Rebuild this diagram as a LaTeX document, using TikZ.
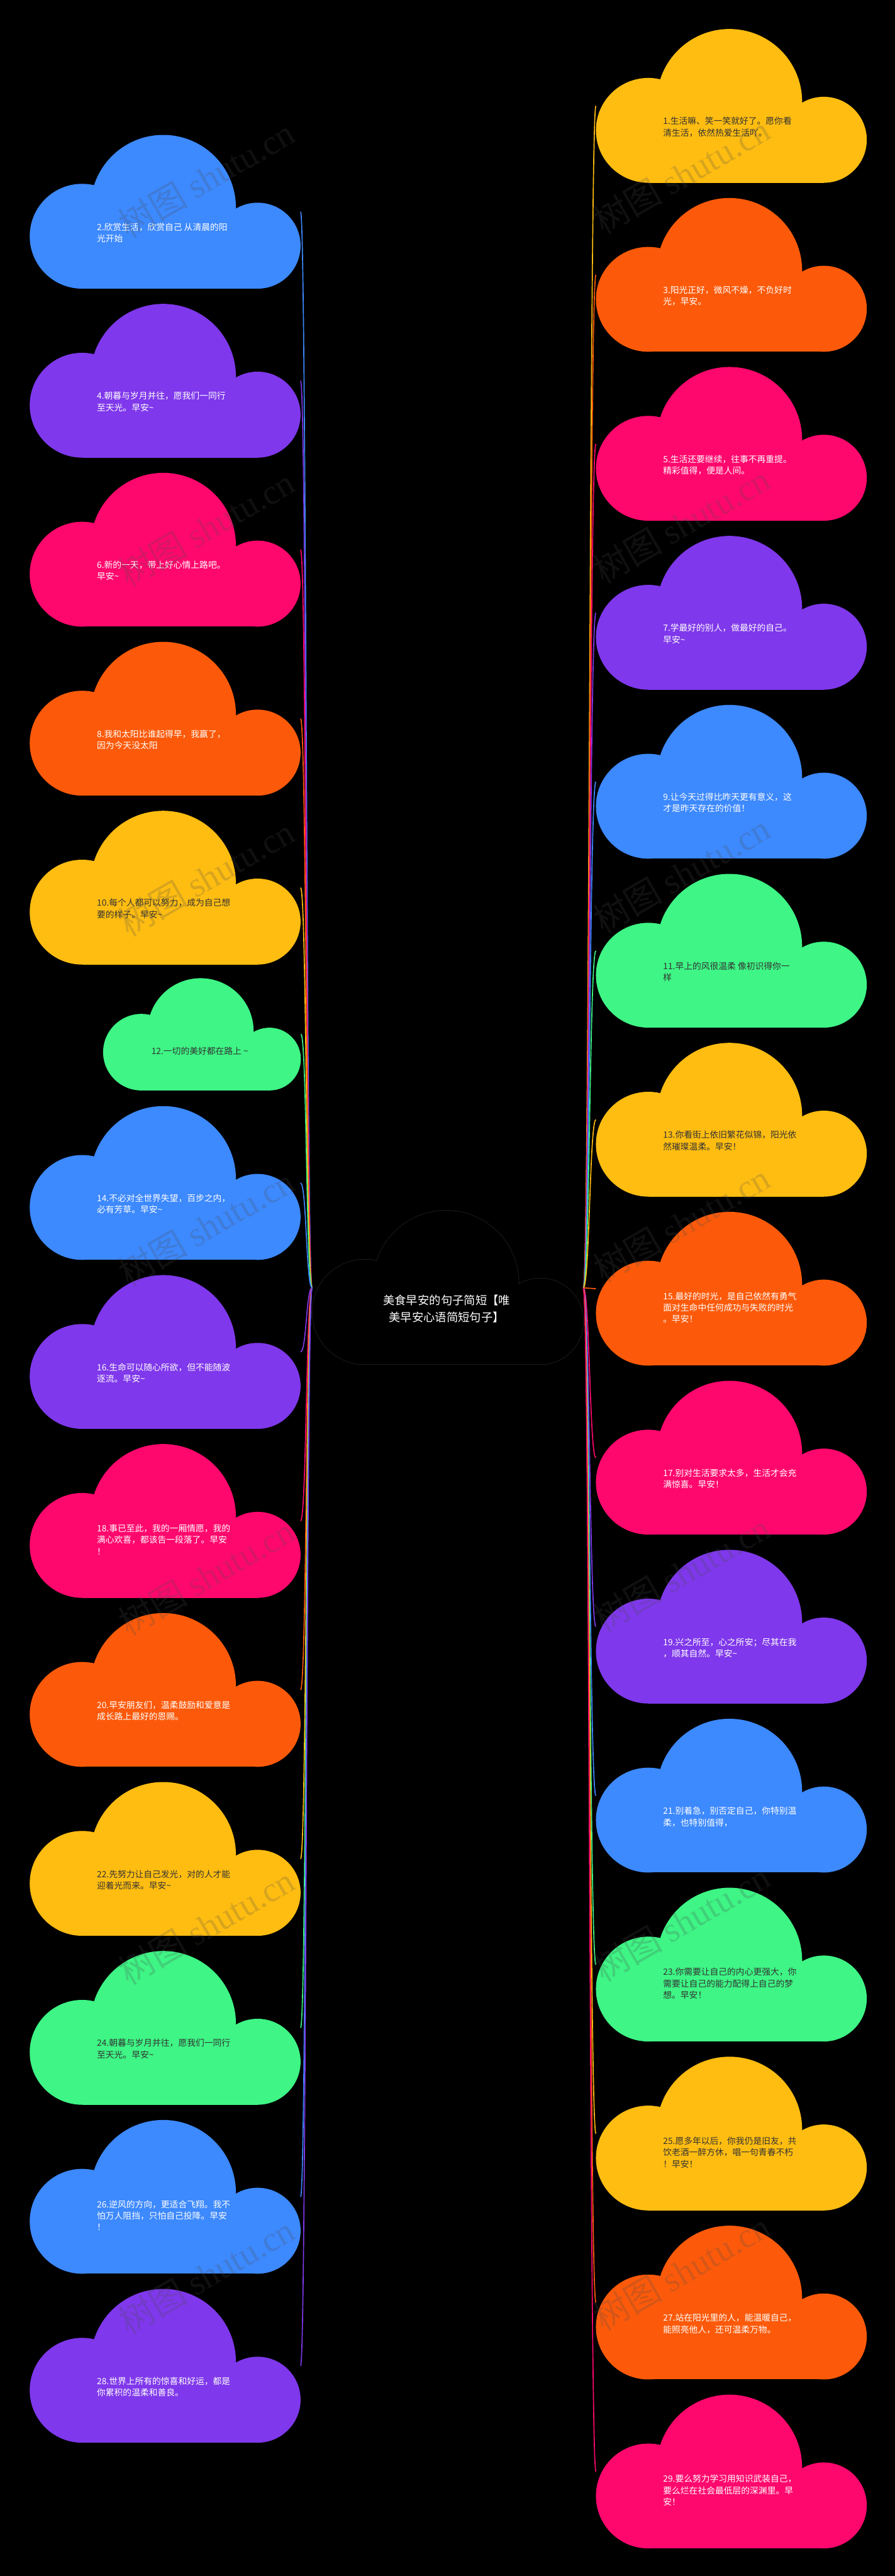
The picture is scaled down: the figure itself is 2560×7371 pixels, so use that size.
\documentclass[tikz,border=0pt]{standalone}
\usepackage{fontspec}
\newfontfamily\cjk{Noto Sans CJK SC}
\newfontfamily\wmlatin{Liberation Serif}
\definecolor{cblue}{HTML}{3D89FE}
\definecolor{cpurple}{HTML}{7F38EB}
\definecolor{cpink}{HTML}{FF086D}
\definecolor{corange}{HTML}{FC5A0A}
\definecolor{cyellow}{HTML}{FFBD11}
\definecolor{cgreen}{HTML}{3EF585}
\definecolor{cdark}{HTML}{333333}
\definecolor{cedge}{HTML}{1E1E1E}
\newcommand\tld{\textasciitilde}
% #1 left, #2 top, #3 scale, #4 fill style
\newcommand\cloudshape[4]{%
  \begin{scope}[shift={(#1,#2)},scale=#3]
    \fill[#4] (150,290) circle[radius=150];
    \fill[#4] (382,208) circle[radius=208];
    \fill[#4] (652,317) circle[radius=123];
    \fill[#4] (150,290) rectangle (652,440);
  \end{scope}}
\newcommand\lcloud[6]{\cloudshape{85}{#2}{1}{#3}\node[txt,text=#4] (t#1) at (277,#2+#5) {#6};}
\newcommand\rcloud[6]{\cloudshape{1705}{#2}{1}{#3}\node[txt,text=#4] (t#1) at (1897,#2+#5) {#6};}
\newcommand\lconn[3]{\coordinate (e#1) at (860,#2+220); \draw[conn,#3] (cL) .. controls +(-17,0) and +(17,0) .. (e#1);}
\newcommand\rconn[3]{\coordinate (e#1) at (1705,#2+220); \draw[conn,#3] (cR) .. controls +(18,0) and +(-18,0) .. (e#1);}
\tikzset{
  conn/.style={line width=1.5pt},
  txt/.style={font=\cjk\fontsize{12.4pt}{16.5pt}\selectfont, align=left, anchor=west, inner sep=0pt},
  ctitle/.style={font=\cjk\fontsize{16.5pt}{24.5pt}\selectfont, align=center, inner sep=0pt, text=white},
  wm/.style={font=\fontsize{50pt}{60pt}\selectfont, text=white!30!black, text opacity=0.22, rotate=30, inner sep=0pt},
}
\begin{document}
\begin{tikzpicture}[x=0.5pt,y=-0.5pt]
\useasboundingbox (0,0) rectangle (2560,7371);
\fill[black] (0,0) rectangle (2560,7371);
\coordinate (cL) at (893,3685);
\coordinate (cR) at (1669,3685);
% connectors
\lconn{2}{386}{cblue}
\lconn{4}{869.5}{cpurple}
\lconn{6}{1353}{cpink}
\lconn{8}{1836.5}{corange}
\lconn{10}{2320}{cyellow}
\coordinate (e12) at (861,2959); \draw[conn,cgreen] (cL) .. controls +(-17,0) and +(17,0) .. (e12);
\lconn{14}{3165}{cblue}
\lconn{16}{3648.5}{cpurple}
\lconn{18}{4132}{cpink}
\lconn{20}{4615.5}{corange}
\lconn{22}{5099}{cyellow}
\lconn{24}{5582.5}{cgreen}
\lconn{26}{6066}{cblue}
\lconn{28}{6549.5}{cpurple}
\rconn{1}{83}{cyellow}
\rconn{3}{566.5}{corange}
\rconn{5}{1050}{cpink}
\rconn{7}{1533.5}{cpurple}
\rconn{9}{2017}{cblue}
\rconn{11}{2500.5}{cgreen}
\rconn{13}{2984}{cyellow}
\rconn{15}{3467.5}{corange}
\rconn{17}{3951}{cpink}
\rconn{19}{4434.5}{cpurple}
\rconn{21}{4918}{cblue}
\rconn{23}{5401.5}{cgreen}
\rconn{25}{5885}{cyellow}
\rconn{27}{6368.5}{corange}
\rconn{29}{6852}{cpink}
% center cloud (outline only)
\begin{scope}[shift={(894,3464)}]
  \draw[cedge,line width=1.6pt] (150,290) circle[radius=150];
  \draw[cedge,line width=1.6pt] (382,208) circle[radius=208];
  \draw[cedge,line width=1.6pt] (652,317) circle[radius=123];
  \draw[cedge,line width=1.6pt] (150,290) rectangle (652,440);
\end{scope}
\cloudshape{894}{3464}{1}{black}
\node[ctitle] (center) at (1278,3748) {\strut 美食早安的句子简短【唯\\\strut 美早安心语简短句子】};
% left clouds
\lcloud{2}{386}{cblue}{white}{283}{\strut 2.欣赏生活，欣赏自己 从清晨的阳\\\strut 光开始}
\lcloud{4}{869.5}{cpurple}{white}{283}{\strut 4.朝暮与岁月并往，愿我们一同行\\\strut 至天光。早安\tld}
\lcloud{6}{1353}{cpink}{white}{283}{\strut 6.新的一天，带上好心情上路吧。\\\strut 早安\tld}
\lcloud{8}{1836.5}{corange}{white}{283}{\strut 8.我和太阳比谁起得早，我赢了，\\\strut 因为今天没太阳}
\lcloud{10}{2320}{cyellow}{cdark}{283}{\strut 10.每个人都可以努力，成为自己想\\\strut 要的样子。早安\tld}
\cloudshape{295}{2799}{0.73}{cgreen}
\node[txt,text=cdark] (t12) at (433,3011) {\strut 12.一切的美好都在路上 \tld};
\lcloud{14}{3165}{cblue}{white}{283}{\strut 14.不必对全世界失望，百步之内，\\\strut 必有芳草。早安\tld}
\lcloud{16}{3648.5}{cpurple}{white}{283}{\strut 16.生命可以随心所欲，但不能随波\\\strut 逐流。早安\tld}
\lcloud{18}{4132}{cpink}{white}{277}{\strut 18.事已至此，我的一厢情愿，我的\\\strut 满心欢喜，都该告一段落了。早安\\\strut ！}
\lcloud{20}{4615.5}{corange}{white}{283}{\strut 20.早安朋友们，温柔鼓励和爱意是\\\strut 成长路上最好的恩赐。}
\lcloud{22}{5099}{cyellow}{cdark}{283}{\strut 22.先努力让自己发光，对的人才能\\\strut 迎着光而来。早安\tld}
\lcloud{24}{5582.5}{cgreen}{cdark}{283}{\strut 24.朝暮与岁月并往，愿我们一同行\\\strut 至天光。早安\tld}
\lcloud{26}{6066}{cblue}{white}{277}{\strut 26.逆风的方向，更适合飞翔。我不\\\strut 怕万人阻挡，只怕自己投降。早安\\\strut ！}
\lcloud{28}{6549.5}{cpurple}{white}{283}{\strut 28.世界上所有的惊喜和好运，都是\\\strut 你累积的温柔和善良。}
% right clouds
\rcloud{1}{83}{cyellow}{cdark}{283}{\strut 1.生活嘛、笑一笑就好了。愿你看\\\strut 清生活，依然热爱生活吖。}
\rcloud{3}{566.5}{corange}{white}{283}{\strut 3.阳光正好，微风不燥，不负好时\\\strut 光，早安。}
\rcloud{5}{1050}{cpink}{white}{283}{\strut 5.生活还要继续，往事不再重提。\\\strut 精彩值得，便是人间。}
\rcloud{7}{1533.5}{cpurple}{white}{283}{\strut 7.学最好的别人，做最好的自己。\\\strut 早安\tld}
\rcloud{9}{2017}{cblue}{white}{283}{\strut 9.让今天过得比昨天更有意义，这\\\strut 才是昨天存在的价值！}
\rcloud{11}{2500.5}{cgreen}{cdark}{283}{\strut 11.早上的风很温柔 像初识得你一\\\strut 样}
\rcloud{13}{2984}{cyellow}{cdark}{283}{\strut 13.你看街上依旧繁花似锦，阳光依\\\strut 然璀璨温柔。早安！}
\rcloud{15}{3467.5}{corange}{white}{277}{\strut 15.最好的时光，是自己依然有勇气\\\strut 面对生命中任何成功与失败的时光\\\strut 。早安！}
\rcloud{17}{3951}{cpink}{white}{283}{\strut 17.别对生活要求太多，生活才会充\\\strut 满惊喜。早安！}
\rcloud{19}{4434.5}{cpurple}{white}{283}{\strut 19.兴之所至，心之所安；尽其在我\\\strut ，顺其自然。早安\tld}
\rcloud{21}{4918}{cblue}{white}{283}{\strut 21.别着急，别否定自己，你特别温\\\strut 柔，也特别值得，}
\rcloud{23}{5401.5}{cgreen}{cdark}{277}{\strut 23.你需要让自己的内心更强大，你\\\strut 需要让自己的能力配得上自己的梦\\\strut 想。早安！}
\rcloud{25}{5885}{cyellow}{cdark}{277}{\strut 25.愿多年以后，你我仍是旧友，共\\\strut 饮老酒一醉方休，唱一句青春不朽\\\strut ！早安！}
\rcloud{27}{6368.5}{corange}{white}{283}{\strut 27.站在阳光里的人，能温暖自己，\\\strut 能照亮他人，还可温柔万物。}
\rcloud{29}{6852}{cpink}{white}{277}{\strut 29.要么努力学习用知识武装自己，\\\strut 要么烂在社会最低层的深渊里。早\\\strut 安！}
% watermarks
\foreach \k in {0,...,6}{
  \node[wm] (wl\k) at (590,510+1000*\k) {\cjk 树图 \wmlatin shutu.cn};
  \node[wm] (wr\k) at (1950,500+1000*\k) {\cjk 树图 \wmlatin shutu.cn};
}
\end{tikzpicture}
\end{document}
